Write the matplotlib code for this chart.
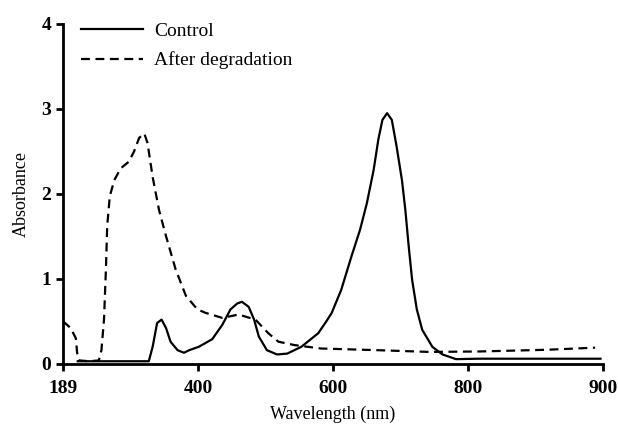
import numpy as np
import matplotlib.pyplot as plt

plt.rcParams['font.family'] = ['Liberation Serif', 'DejaVu Serif']

# tick positions on the wavelength axis (equally spaced on screen)
x_ticks = [189, 400, 600, 800, 900]

# Control spectrum
ctrl_nm = [212, 230, 260, 300, 323, 329, 336, 343, 350, 357, 368, 378, 386, 401,
           421, 436, 448, 458, 465, 475, 483, 490, 502, 517, 532, 553, 578, 590,
           598, 612, 627, 640, 650, 660, 667, 673, 680, 687, 694, 702, 707, 712,
           717, 724, 732, 747, 762, 782, 808, 850, 898]
ctrl_abs = [0.03, 0.03, 0.03, 0.03, 0.03, 0.20, 0.48, 0.52, 0.42, 0.26, 0.16, 0.13,
            0.16, 0.20, 0.29, 0.46, 0.64, 0.71, 0.73, 0.67, 0.52, 0.32, 0.16, 0.11,
            0.12, 0.20, 0.36, 0.50, 0.60, 0.87, 1.26, 1.58, 1.89, 2.28, 2.64, 2.87,
            2.95, 2.87, 2.56, 2.16, 1.81, 1.38, 0.99, 0.64, 0.40, 0.20, 0.11, 0.055,
            0.06, 0.06, 0.06]

# After degradation
deg_nm = [189, 201, 209, 211, 214, 230, 245, 249, 253, 256, 258, 262, 269, 279,
          292, 300, 308, 316, 321, 329, 339, 350, 365, 381, 399, 411, 436, 460,
          485, 504, 519, 543, 582, 667, 742, 808, 858, 894]
deg_abs = [0.50, 0.42, 0.30, 0.13, 0.04, 0.03, 0.04, 0.16, 0.52, 1.11, 1.62, 1.97,
           2.16, 2.30, 2.38, 2.50, 2.66, 2.71, 2.60, 2.20, 1.81, 1.50, 1.11, 0.80,
           0.64, 0.60, 0.54, 0.58, 0.52, 0.36, 0.26, 0.22, 0.18, 0.16, 0.14, 0.145,
           0.165, 0.19]

pos = np.arange(len(x_ticks))


def fwd(x):
    return np.interp(x, x_ticks, pos)


def inv(p):
    return np.interp(p, pos, x_ticks)


fig = plt.figure(figsize=(6.18, 4.28), dpi=100)
ax = fig.add_axes([0.102, 0.150, 0.874, 0.794])
ax.set_xscale('function', functions=(fwd, inv))

ax.plot(ctrl_nm, ctrl_abs, color='black', lw=1.6, label='Control')
ax.plot(deg_nm, deg_abs, color='black', lw=1.6, ls=(0, (4, 2.5)), label='After degradation')

ax.set_xlim(189, 900)
ax.set_ylim(0, 4)
ax.set_xticks(x_ticks)
ax.set_xticklabels([str(t) for t in x_ticks])
ax.set_yticks([0, 1, 2, 3, 4])
ax.minorticks_off()

for s in ['top', 'right']:
    ax.spines[s].set_visible(False)
for s in ['left', 'bottom']:
    ax.spines[s].set_linewidth(2)
ax.tick_params(width=2, length=5, labelsize=14)
ax.tick_params(axis='x', pad=7)
for lab in ax.get_xticklabels() + ax.get_yticklabels():
    lab.set_fontweight('bold')

ax.set_xlabel('Wavelength (nm)', fontsize=13, labelpad=6)
ax.set_ylabel('Absorbance', fontsize=13, labelpad=8)

ax.legend(loc='upper left', bbox_to_anchor=(0.033, 1.005), frameon=False,
          fontsize=14, handlelength=3.2, handletextpad=0.55, labelspacing=0.6,
          borderaxespad=0, borderpad=0)

fig.savefig('out.png', dpi=100)
